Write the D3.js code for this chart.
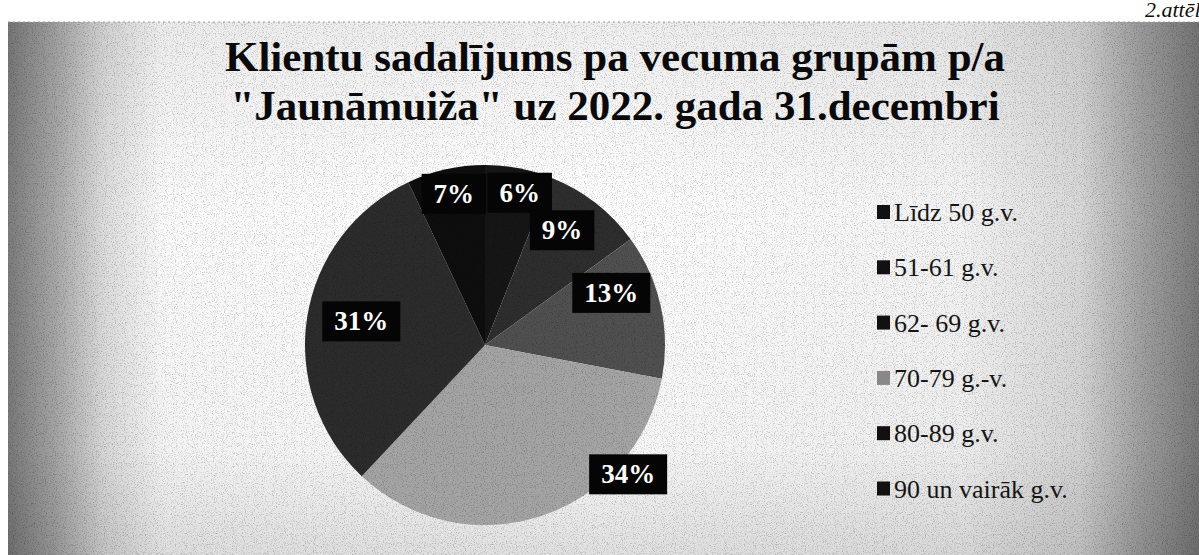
<!DOCTYPE html>
<html lang="lv">
<head>
<meta charset="utf-8">
<title>Klientu sadalījums</title>
<script src="https://d3js.org/d3.v7.min.js"></script>
<style>
  html, body { margin: 0; padding: 0; background: #fff; }
  svg { display: block; }
  text { font-family: "Liberation Serif", "Times New Roman", serif; }
</style>
</head>
<body>
<div id="chart"></div>
<script>
// data
const categories = ["Līdz 50 g.v.", "51-61 g.v.", "62- 69 g.v.", "70-79 g.-v.", "80-89 g.v.", "90 un vairāk g.v."];
const shares = [6, 9, 13, 34, 31, 7];
const titleLines = ["Klientu sadalījums pa vecuma grupām p/a", "\"Jaunāmuiža\" uz 2022. gada 31.decembri"];
const captionText = "2.attēls";

const w = 1199, h = 555;
const cx = 485, cy = 345, R = 180;
const panelTop = 22, panelLeft = 8;

// grey shades of the scan, one per slice
const shades = ["#161616", "#2e2e2e", "#505050", "#a4a4a4", "#2c2c2c", "#0e0e0e"];
const legendShades = ["#111", "#111", "#111", "#888", "#111", "#111"];
// label placement: fraction of radius, angle shift (deg)
const labelPos = [[0.87, 2], [0.77, -4], [0.76, -10], [1.07, -30], [0.7, 2], [0.86, 1]];

const svg = d3.select("#chart").append("svg")
  .attr("width", w).attr("height", h);

const defs = svg.append("defs");

// horizontal fade of the scanned page
const bg = defs.append("linearGradient").attr("id", "bgH");
[[0, "#7c7c7c"], [0.04, "#a8a8a8"], [0.08, "#dcdcdc"], [0.13, "#fbfbfb"], [0.5, "#ffffff"],
 [0.8, "#f4f4f4"], [0.9, "#d8d8d8"], [0.95, "#a4a4a4"], [1, "#7a7a7a"]]
  .forEach(s => bg.append("stop").attr("offset", s[0]).attr("stop-color", s[1]));

const bgV = defs.append("linearGradient").attr("id", "bgV")
  .attr("x1", 0).attr("x2", 0).attr("y1", 0).attr("y2", 1);
[[0, "#000", 0.06], [0.35, "#000", 0], [0.8, "#000", 0.03], [1, "#000", 0.12]]
  .forEach(s => bgV.append("stop").attr("offset", s[0]).attr("stop-color", s[1]).attr("stop-opacity", s[2]));

// grain filter
const grain = defs.append("filter").attr("id", "grain")
  .attr("x", 0).attr("y", 0).attr("width", "100%").attr("height", "100%");
grain.append("feTurbulence").attr("type", "fractalNoise")
  .attr("baseFrequency", 0.9).attr("numOctaves", 2).attr("seed", 4).attr("result", "n");
grain.append("feColorMatrix").attr("type", "matrix")
  .attr("values", "0 0 0 0 0  0 0 0 0 0  0 0 0 0 0  -3 0 0 0 1.5");

svg.append("rect").attr("width", w).attr("height", h).attr("fill", "#fff");

const panel = svg.append("g");
panel.append("rect").attr("x", panelLeft).attr("y", panelTop)
  .attr("width", w - panelLeft).attr("height", h - panelTop)
  .attr("fill", "url(#bgH)");
panel.append("rect").attr("x", panelLeft).attr("y", panelTop)
  .attr("width", w - panelLeft).attr("height", h - panelTop)
  .attr("fill", "url(#bgV)");

// pie
const pie = d3.pie().sort(null).value(d => d)(shares);
const arc = d3.arc().innerRadius(0).outerRadius(R);

const pieG = svg.append("g").attr("transform", `translate(${cx},${cy})`);
pieG.selectAll("path")
  .data(pie)
  .enter()
  .append("path")
  .attr("d", arc)
  .attr("fill", (d, i) => shades[i]);

// grain over page and pie
svg.append("rect").attr("x", panelLeft).attr("y", panelTop)
  .attr("width", w - panelLeft).attr("height", h - panelTop)
  .attr("filter", "url(#grain)").attr("opacity", 0.22);

// dotted edge of the scanned panel
svg.append("line").attr("x1", panelLeft).attr("x2", w).attr("y1", panelTop).attr("y2", panelTop)
  .attr("stroke", "#999").attr("stroke-dasharray", "2,3").attr("stroke-width", 1);

// title
svg.append("g").selectAll("text")
  .data(titleLines)
  .enter()
  .append("text")
  .attr("x", 615)
  .attr("y", (d, i) => 71 + i * 49)
  .attr("text-anchor", "middle")
  .attr("font-size", "43px")
  .attr("font-weight", "bold")
  .attr("fill", "#0a0a0a")
  .text(d => d);

// figure number, cut by the page edge as in the scan
svg.append("text")
  .attr("x", 1145).attr("y", 17)
  .attr("font-size", "22px")
  .attr("font-style", "italic")
  .attr("fill", "#111")
  .text(captionText);

// slice labels: white on black boxes
const labels = svg.append("g").attr("transform", `translate(${cx},${cy})`)
  .selectAll("g")
  .data(pie)
  .enter()
  .append("g")
  .attr("transform", (d, i) => {
    const a = (d.startAngle + d.endAngle) / 2 + labelPos[i][1] * Math.PI / 180;
    const r = R * labelPos[i][0];
    return `translate(${r * Math.sin(a)},${-r * Math.cos(a)})`;
  });

labels.append("text")
  .attr("text-anchor", "middle")
  .attr("dy", "0.35em")
  .attr("font-size", "27px")
  .attr("font-weight", "bold")
  .attr("fill", "#fff")
  .text(d => d.data + "%");

labels.each(function() {
  const g = d3.select(this);
  const bb = g.select("text").node().getBBox();
  g.insert("rect", "text")
    .attr("x", bb.x - 12).attr("y", bb.y - 5)
    .attr("width", bb.width + 24).attr("height", bb.height + 10)
    .attr("fill", "#050505");
});

// legend
const legend = svg.append("g").selectAll("g")
  .data(categories)
  .enter()
  .append("g")
  .attr("transform", (d, i) => `translate(877,${212 + i * 55.3})`);

legend.append("rect")
  .attr("x", 0).attr("y", -7)
  .attr("width", 13).attr("height", 14)
  .attr("fill", (d, i) => legendShades[i]);

legend.append("text")
  .attr("x", 17)
  .attr("dy", "0.35em")
  .attr("font-size", "26px")
  .attr("fill", "#151515")
  .text(d => d);
</script>
</body>
</html>
